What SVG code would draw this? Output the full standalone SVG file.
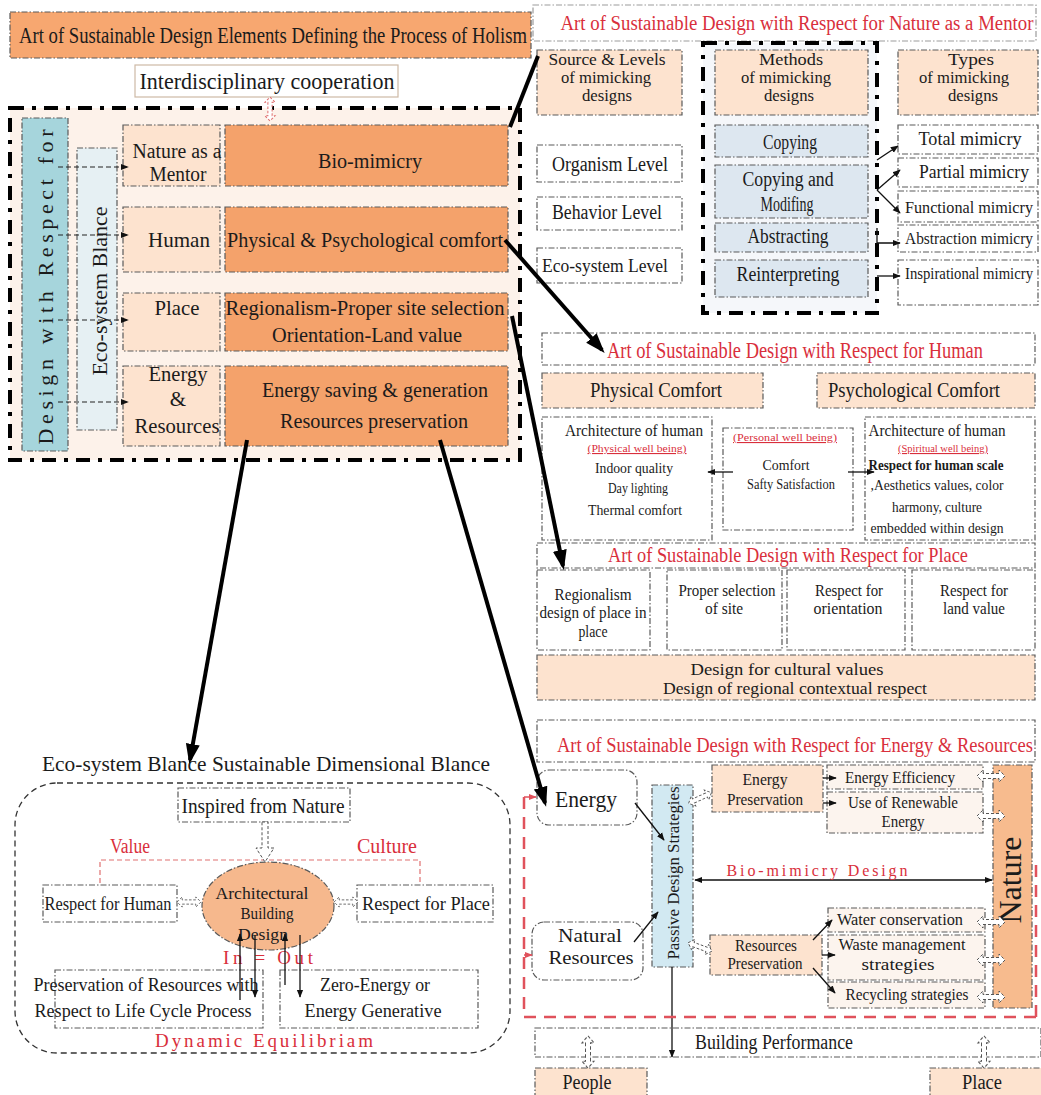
<svg xmlns="http://www.w3.org/2000/svg" width="1041" height="1095" viewBox="0 0 1041 1095">
<defs>
<style>
 text{font-family:"Liberation Serif","Times New Roman",serif;fill:#1b1b1b;text-anchor:middle}
 .red{fill:#d92f3c}
 .bx{stroke:#5a5a5a;stroke-width:1.2;stroke-dasharray:6 2 1.5 2}
 .pe{fill:#fde3cf}
 .or{fill:#f4a26b}
 .wh{fill:#fff}
 .lt{fill:#fcf4ee}
 .bl{fill:#dde7f0}
 .thick{stroke:#000;stroke-width:4;stroke-dasharray:14 8 4 8}
 .big{stroke:#000;stroke-width:4;fill:none;marker-end:url(#bigHead)}
 .thin{stroke:#111;stroke-width:1.3;fill:none;marker-end:url(#head)}
 .dsh{stroke:#222;stroke-width:1.2;stroke-dasharray:5 3;fill:none;marker-end:url(#head)}
 .reddash{stroke:#e0525c;stroke-width:2.5;stroke-dasharray:12 8;fill:none}
 .hol{fill:#fff;stroke:#555;stroke-width:1;stroke-dasharray:3 2}
</style>
<marker id="head" viewBox="0 0 10 10" refX="9" refY="5" markerWidth="8" markerHeight="8" markerUnits="userSpaceOnUse" orient="auto-start-reverse"><path d="M0,1 L10,5 L0,9 z" fill="#111"/></marker>
<marker id="rhead" viewBox="0 0 10 10" refX="9" refY="5" markerWidth="8" markerHeight="8" markerUnits="userSpaceOnUse" orient="auto"><path d="M0,1 L10,5 L0,9 z" fill="#e0525c"/></marker>
<marker id="bigHead" viewBox="0 0 10 10" refX="8" refY="5" markerWidth="20" markerHeight="20" markerUnits="userSpaceOnUse" orient="auto"><path d="M0,1.5 L10,5 L0,8.5 z" fill="#000"/></marker>
<path id="dbl" d="M-14,0 L-8,-6 L-8,-2.5 L8,-2.5 L8,-6 L14,0 L8,6 L8,2.5 L-8,2.5 L-8,6 Z"/>
<path id="down" d="M-3,0 L3,0 L3,26 L9,26 L0,40 L-9,26 L-3,26 Z"/>
</defs>

<rect width="1041" height="1095" fill="#fff"/>

<!-- ===== Holism overview (left) ===== -->
<g id="holism-title">
 <rect x="10" y="12" width="521" height="46" class="bx" fill="#f7a770"/>
 <text x="273" y="43" font-size="24" textLength="508" lengthAdjust="spacingAndGlyphs">Art of Sustainable Design Elements Defining the Process of Holism</text>
</g>
<g id="interdisciplinary">
 <rect x="135" y="65" width="263" height="32" fill="#fff" stroke="#cdb9a6" stroke-width="1.2"/>
 <text x="267" y="89" font-size="24" textLength="255" lengthAdjust="spacingAndGlyphs">Interdisciplinary cooperation</text>
</g>
<g id="holism-frame">
 <rect x="10" y="108" width="510" height="352" fill="#fdf2ea" class="thick"/>
</g>
<g id="design-respect">
 <rect x="22" y="118" width="46" height="333" fill="#a6d5dc" class="bx"/>
 <text transform="translate(53,287) rotate(-90)" font-size="22" fill="#333" textLength="315" lengthAdjust="spacing">Design with Respect for</text>
</g>
<g id="eco-balance">
 <rect x="77" y="148" width="40" height="282" fill="#e6f0f3" class="bx"/>
 <text transform="translate(107,291) rotate(-90)" font-size="22">Eco-system Blance</text>
</g>
<g id="row-nature">
 <rect x="123" y="125" width="97" height="61" class="bx pe"/>
 <rect x="225" y="125" width="283" height="61" class="bx or"/>
 <text x="177" y="158" font-size="20.5" textLength="89" lengthAdjust="spacingAndGlyphs">Nature as a</text>
 <text x="178" y="181" font-size="20.5" textLength="57" lengthAdjust="spacingAndGlyphs">Mentor</text>
 <text x="370" y="168" font-size="22" textLength="104" lengthAdjust="spacingAndGlyphs">Bio-mimicry</text>
</g>
<g id="row-human">
 <rect x="123" y="207" width="97" height="65" class="bx pe"/>
 <rect x="225" y="207" width="283" height="65" class="bx or"/>
 <text x="179" y="247" font-size="22" textLength="62" lengthAdjust="spacingAndGlyphs">Human</text>
 <text x="365" y="247" font-size="21" textLength="276" lengthAdjust="spacingAndGlyphs">Physical &amp; Psychological comfort</text>
</g>
<g id="row-place">
 <rect x="123" y="293" width="97" height="58" class="bx pe"/>
 <rect x="225" y="293" width="283" height="58" class="bx or"/>
 <text x="177" y="315" font-size="21" textLength="45" lengthAdjust="spacingAndGlyphs">Place</text>
 <text x="365" y="315" font-size="21" textLength="279" lengthAdjust="spacingAndGlyphs">Regionalism-Proper site selection</text>
 <text x="367" y="342" font-size="21" textLength="190" lengthAdjust="spacingAndGlyphs">Orientation-Land value</text>
</g>
<g id="row-energy">
 <rect x="123" y="366" width="97" height="80" class="bx pe"/>
 <rect x="225" y="366" width="283" height="80" class="bx or"/>
 <text x="178" y="381" font-size="21" textLength="59" lengthAdjust="spacingAndGlyphs">Energy</text>
 <text x="178" y="406" font-size="21">&amp;</text>
 <text x="177" y="433" font-size="21" textLength="85" lengthAdjust="spacingAndGlyphs">Resources</text>
 <text x="375" y="397" font-size="21" textLength="226" lengthAdjust="spacingAndGlyphs">Energy saving &amp; generation</text>
 <text x="374" y="428" font-size="21" textLength="188" lengthAdjust="spacingAndGlyphs">Resources preservation</text>
</g>

<!-- ===== Nature as a mentor (top right) ===== -->
<g id="mentor-title">
 <rect x="533" y="5" width="503" height="36" fill="none" class="bx" stroke-opacity="0.6"/>
 <text x="797" y="30" font-size="20" class="red" textLength="473" lengthAdjust="spacingAndGlyphs">Art of Sustainable Design with Respect for Nature as a Mentor</text>
</g>
<g id="source-levels">
 <rect x="537" y="50" width="145" height="65" class="bx pe"/>
 <text x="607" y="65" font-size="16" textLength="117" lengthAdjust="spacingAndGlyphs">Source &amp; Levels</text>
 <text x="606" y="83" font-size="16" textLength="90" lengthAdjust="spacingAndGlyphs">of mimicking</text>
 <text x="607" y="101" font-size="16" textLength="50" lengthAdjust="spacingAndGlyphs">designs</text>
</g>
<g id="organism-level">
 <rect x="537" y="145" width="145" height="37" class="bx wh"/>
 <text x="610" y="171" font-size="20" textLength="116" lengthAdjust="spacingAndGlyphs">Organism Level</text>
</g>
<g id="behavior-level">
 <rect x="537" y="197" width="145" height="33" class="bx wh"/>
 <text x="607" y="219" font-size="20" textLength="110" lengthAdjust="spacingAndGlyphs">Behavior Level</text>
</g>
<g id="ecosystem-level">
 <rect x="537" y="248" width="145" height="35" class="bx wh"/>
 <text x="605" y="272" font-size="19" textLength="126" lengthAdjust="spacingAndGlyphs">Eco-system Level</text>
</g>
<g id="methods">
 <rect x="703" y="43" width="174" height="270" fill="#f5f7fa" class="thick"/>
 <rect x="715" y="50" width="153" height="65" class="bx pe"/>
 <text x="791" y="65" font-size="16" textLength="64" lengthAdjust="spacingAndGlyphs">Methods</text>
 <text x="786" y="83" font-size="16" textLength="90" lengthAdjust="spacingAndGlyphs">of mimicking</text>
 <text x="789" y="101" font-size="16" textLength="50" lengthAdjust="spacingAndGlyphs">designs</text>
</g>
<g id="copying">
 <rect x="715" y="125" width="153" height="32" class="bx bl"/>
 <text x="790" y="149" font-size="20" textLength="54" lengthAdjust="spacingAndGlyphs">Copying</text>
</g>
<g id="copying-modifing">
 <rect x="715" y="165" width="153" height="53" class="bx bl"/>
 <text x="788" y="186" font-size="20" textLength="91" lengthAdjust="spacingAndGlyphs">Copying and</text>
 <text x="787" y="211" font-size="20" textLength="53" lengthAdjust="spacingAndGlyphs">Modifing</text>
</g>
<g id="abstracting">
 <rect x="715" y="223" width="153" height="29" class="bx bl"/>
 <text x="788" y="243" font-size="20" textLength="81" lengthAdjust="spacingAndGlyphs">Abstracting</text>
</g>
<g id="reinterpreting">
 <rect x="715" y="260" width="153" height="37" class="bx bl"/>
 <text x="788" y="281" font-size="20" textLength="103" lengthAdjust="spacingAndGlyphs">Reinterpreting</text>
</g>
<g id="types">
 <rect x="898" y="50" width="140" height="65" class="bx pe"/>
 <text x="971" y="65" font-size="16" textLength="46" lengthAdjust="spacingAndGlyphs">Types</text>
 <text x="964" y="83" font-size="16" textLength="90" lengthAdjust="spacingAndGlyphs">of mimicking</text>
 <text x="973" y="101" font-size="16" textLength="50" lengthAdjust="spacingAndGlyphs">designs</text>
</g>
<g id="total-mimicry">
 <rect x="898" y="125" width="140" height="29" class="bx wh"/>
 <text x="970" y="145" font-size="18" textLength="103" lengthAdjust="spacingAndGlyphs">Total mimicry</text>
</g>
<g id="partial-mimicry">
 <rect x="898" y="158" width="140" height="29" class="bx wh"/>
 <text x="974" y="178" font-size="18" textLength="110" lengthAdjust="spacingAndGlyphs">Partial mimicry</text>
</g>
<g id="functional-mimicry">
 <rect x="898" y="191" width="140" height="31" class="bx wh"/>
 <text x="969" y="213" font-size="17" textLength="128" lengthAdjust="spacingAndGlyphs">Functional mimicry</text>
</g>
<g id="abstraction-mimicry">
 <rect x="898" y="225" width="140" height="27" class="bx wh"/>
 <text x="969" y="244" font-size="17" textLength="128" lengthAdjust="spacingAndGlyphs">Abstraction mimicry</text>
</g>
<g id="inspirational-mimicry">
 <rect x="898" y="260" width="140" height="45" class="bx wh"/>
 <text x="969" y="279" font-size="17" textLength="128" lengthAdjust="spacingAndGlyphs">Inspirational mimicry</text>
</g>

<!-- ===== Respect for human ===== -->
<g id="human-title">
 <rect x="542" y="333" width="493" height="32" class="bx wh"/>
 <text x="795" y="358" font-size="23" class="red" textLength="376" lengthAdjust="spacingAndGlyphs">Art of Sustainable Design with Respect for Human</text>
</g>
<g id="physical-comfort">
 <rect x="542" y="373" width="221" height="35" class="bx pe"/>
 <text x="656" y="397" font-size="21" textLength="132" lengthAdjust="spacingAndGlyphs">Physical Comfort</text>
</g>
<g id="psychological-comfort">
 <rect x="817" y="373" width="218" height="35" class="bx pe"/>
 <text x="914" y="397" font-size="21" textLength="172" lengthAdjust="spacingAndGlyphs">Psychological Comfort</text>
</g>
<g id="physical-wellbeing">
 <rect x="542" y="417" width="170" height="123" class="bx wh"/>
 <text x="634" y="436" font-size="16" textLength="138" lengthAdjust="spacingAndGlyphs">Architecture of human</text>
 <text x="637" y="452" font-size="11" class="red" style="text-decoration:underline" textLength="99" lengthAdjust="spacingAndGlyphs">(Physical well being)</text>
 <text x="634" y="473" font-size="15" textLength="78" lengthAdjust="spacingAndGlyphs">Indoor quality</text>
 <text x="638" y="493" font-size="15" textLength="60" lengthAdjust="spacingAndGlyphs">Day lighting</text>
 <text x="635" y="515" font-size="15" textLength="94" lengthAdjust="spacingAndGlyphs">Thermal comfort</text>
</g>
<g id="personal-wellbeing">
 <rect x="723" y="428" width="130" height="102" class="bx wh"/>
 <text x="785" y="441" font-size="11" class="red" style="text-decoration:underline" textLength="104" lengthAdjust="spacingAndGlyphs">(Personal well being)</text>
 <text x="786" y="470" font-size="15" textLength="47" lengthAdjust="spacingAndGlyphs">Comfort</text>
 <text x="791" y="489" font-size="15" textLength="88" lengthAdjust="spacingAndGlyphs">Safty Satisfaction</text>
</g>
<g id="spiritual-wellbeing">
 <rect x="865" y="417" width="170" height="123" class="bx wh"/>
 <text x="937" y="436" font-size="16" textLength="137" lengthAdjust="spacingAndGlyphs">Architecture of human</text>
 <text x="943" y="452" font-size="11" class="red" style="text-decoration:underline" textLength="90" lengthAdjust="spacingAndGlyphs">(Spiritual well being)</text>
 <text x="936" y="470" font-size="15" font-weight="bold" textLength="135" lengthAdjust="spacingAndGlyphs">Respect for human scale</text>
 <text x="937" y="490" font-size="15" textLength="133" lengthAdjust="spacingAndGlyphs">,Aesthetics values, color</text>
 <text x="937" y="512" font-size="15" textLength="90" lengthAdjust="spacingAndGlyphs">harmony, culture</text>
 <text x="937" y="533" font-size="15" textLength="133" lengthAdjust="spacingAndGlyphs">embedded within design</text>
</g>

<!-- ===== Respect for place ===== -->
<g id="place-title">
 <rect x="537" y="543" width="498" height="25" class="bx wh"/>
 <text x="788" y="562" font-size="22" class="red" textLength="360" lengthAdjust="spacingAndGlyphs">Art of Sustainable Design with Respect for Place</text>
</g>
<g id="regionalism">
 <rect x="537" y="570" width="113" height="80" class="bx wh"/>
 <text x="593" y="600" font-size="16" textLength="77" lengthAdjust="spacingAndGlyphs">Regionalism</text>
 <text x="593" y="618" font-size="16" textLength="107" lengthAdjust="spacingAndGlyphs">design of place in</text>
 <text x="593" y="637" font-size="16" textLength="29" lengthAdjust="spacingAndGlyphs">place</text>
</g>
<g id="site-selection">
 <rect x="667" y="570" width="115" height="80" class="bx wh"/>
 <text x="727" y="596" font-size="16" textLength="97" lengthAdjust="spacingAndGlyphs">Proper selection</text>
 <text x="724" y="614" font-size="16" textLength="38" lengthAdjust="spacingAndGlyphs">of site</text>
</g>
<g id="orientation">
 <rect x="787" y="570" width="118" height="80" class="bx wh"/>
 <text x="849" y="596" font-size="16" textLength="68" lengthAdjust="spacingAndGlyphs">Respect for</text>
 <text x="848" y="614" font-size="16" textLength="69" lengthAdjust="spacingAndGlyphs">orientation</text>
</g>
<g id="land-value">
 <rect x="912" y="570" width="123" height="80" class="bx wh"/>
 <text x="974" y="596" font-size="16" textLength="68" lengthAdjust="spacingAndGlyphs">Respect for</text>
 <text x="974" y="614" font-size="16" textLength="62" lengthAdjust="spacingAndGlyphs">land value</text>
</g>
<g id="cultural-values">
 <rect x="537" y="655" width="498" height="45" class="bx pe"/>
 <text x="787" y="675" font-size="17" textLength="193" lengthAdjust="spacingAndGlyphs">Design for cultural values</text>
 <text x="795" y="694" font-size="17" textLength="264" lengthAdjust="spacingAndGlyphs">Design of regional contextual respect</text>
</g>

<!-- ===== Respect for energy & resources ===== -->
<g id="energy-title">
 <rect x="537" y="720" width="498" height="42" class="bx wh"/>
 <text x="795" y="752" font-size="20" class="red" textLength="476" lengthAdjust="spacingAndGlyphs">Art of Sustainable Design with Respect for Energy &amp; Resources</text>
</g>
<g id="energy">
 <rect x="537" y="770" width="100" height="55" rx="12" class="bx wh"/>
 <text x="586" y="807" font-size="24" textLength="62" lengthAdjust="spacingAndGlyphs">Energy</text>
</g>
<g id="natural-resources">
 <rect x="532" y="922" width="111" height="58" rx="12" class="bx wh"/>
 <text x="590" y="942" font-size="19.5" textLength="64" lengthAdjust="spacingAndGlyphs">Natural</text>
 <text x="591" y="964" font-size="19.5" textLength="85" lengthAdjust="spacingAndGlyphs">Resources</text>
</g>
<g id="passive-design">
 <rect x="652" y="785" width="41" height="182" fill="#d2e9f2" class="bx"/>
 <text transform="translate(679,873) rotate(-90)" font-size="17" textLength="173" lengthAdjust="spacingAndGlyphs">Passive Design Strategies</text>
</g>
<g id="energy-preservation">
 <rect x="712" y="765" width="111" height="47" class="bx pe"/>
 <text x="765" y="785" font-size="17" textLength="45" lengthAdjust="spacingAndGlyphs">Energy</text>
 <text x="765" y="805" font-size="17" textLength="76" lengthAdjust="spacingAndGlyphs">Preservation</text>
</g>
<g id="energy-efficiency">
 <rect x="827" y="765" width="156" height="24" class="bx lt"/>
 <text x="900" y="783" font-size="17" textLength="110" lengthAdjust="spacingAndGlyphs">Energy Efficiency</text>
</g>
<g id="renewable-energy">
 <rect x="827" y="792" width="156" height="41" class="bx lt"/>
 <text x="903" y="808" font-size="17" textLength="110" lengthAdjust="spacingAndGlyphs">Use of Renewable</text>
 <text x="903" y="827" font-size="17" textLength="43" lengthAdjust="spacingAndGlyphs">Energy</text>
</g>
<g id="resources-preservation">
 <rect x="710" y="935" width="112" height="40" class="bx pe"/>
 <text x="766" y="951" font-size="16" textLength="62" lengthAdjust="spacingAndGlyphs">Resources</text>
 <text x="765" y="969" font-size="16" textLength="75" lengthAdjust="spacingAndGlyphs">Preservation</text>
</g>
<g id="water-conservation">
 <rect x="828" y="908" width="157" height="24" class="bx lt"/>
 <text x="900" y="925" font-size="17" textLength="126" lengthAdjust="spacingAndGlyphs">Water conservation</text>
</g>
<g id="waste-management">
 <rect x="828" y="935" width="157" height="45" class="bx lt"/>
 <text x="902" y="950" font-size="17" textLength="127" lengthAdjust="spacingAndGlyphs">Waste management</text>
 <text x="898" y="970" font-size="17" textLength="73" lengthAdjust="spacingAndGlyphs">strategies</text>
</g>
<g id="recycling">
 <rect x="828" y="982" width="157" height="26" class="bx lt"/>
 <text x="907" y="1000" font-size="17" textLength="123" lengthAdjust="spacingAndGlyphs">Recycling strategies</text>
</g>
<g id="nature">
 <rect x="993" y="765" width="39" height="243" fill="#f7bb8e" class="bx"/>
 <text transform="translate(1021,880) rotate(-90)" font-size="32">Nature</text>
</g>
<g id="building-performance">
 <rect x="535" y="1028" width="506" height="29" class="bx wh"/>
 <text x="774" y="1049" font-size="20" textLength="158" lengthAdjust="spacingAndGlyphs">Building Performance</text>
</g>
<g id="people">
 <rect x="535" y="1068" width="112" height="30" class="bx pe"/>
 <text x="587" y="1089" font-size="20" textLength="49" lengthAdjust="spacingAndGlyphs">People</text>
</g>
<g id="place">
 <rect x="930" y="1068" width="114" height="30" class="bx pe"/>
 <text x="982" y="1089" font-size="20" textLength="40" lengthAdjust="spacingAndGlyphs">Place</text>
</g>

<!-- ===== Eco-system balance (bottom left) ===== -->
<g id="balance-frame">
 <text x="266" y="771" font-size="22" textLength="448" lengthAdjust="spacingAndGlyphs">Eco-system Blance Sustainable Dimensional Blance</text>
 <rect x="15" y="783" width="495" height="270" rx="42" fill="#fff" stroke="#333" stroke-width="1.3" stroke-dasharray="6 4"/>
</g>
<g id="inspired-nature">
 <rect x="178" y="788" width="172" height="34" class="bx wh"/>
 <text x="263" y="813" font-size="20" textLength="163" lengthAdjust="spacingAndGlyphs">Inspired from Nature</text>
</g>
<g id="value-culture">
 <path d="M100,883 V860 H420 V883" fill="none" stroke="#e07070" stroke-width="1.2" stroke-dasharray="5 3"/>
 <text x="130" y="853" font-size="20" class="red" textLength="40" lengthAdjust="spacingAndGlyphs">Value</text>
 <text x="387" y="853" font-size="20" class="red" textLength="60" lengthAdjust="spacingAndGlyphs">Culture</text>
</g>
<g id="respect-human">
 <rect x="43" y="885" width="134" height="37" class="bx wh"/>
 <text x="108" y="910" font-size="18" textLength="127" lengthAdjust="spacingAndGlyphs">Respect for Human</text>
</g>
<g id="respect-place">
 <rect x="357" y="885" width="136" height="37" class="bx wh"/>
 <text x="426" y="910" font-size="18" textLength="128" lengthAdjust="spacingAndGlyphs">Respect for Place</text>
</g>
<g id="architectural-design">
 <ellipse cx="268" cy="906" rx="66" ry="44" fill="#f6b88d" class="bx"/>
 <text x="262" y="899" font-size="17.5" textLength="93" lengthAdjust="spacingAndGlyphs">Architectural</text>
 <text x="267" y="919" font-size="17.5" textLength="53" lengthAdjust="spacingAndGlyphs">Building</text>
 <text x="263" y="940" font-size="17.5" textLength="50" lengthAdjust="spacingAndGlyphs">Design</text>
</g>
<g id="in-out">
 <text x="268" y="964" font-size="19" class="red" textLength="90" lengthAdjust="spacing">In = Out</text>
</g>
<g id="life-cycle">
 <rect x="55" y="970" width="208" height="58" class="bx wh"/>
 <text x="146" y="991" font-size="19" textLength="225" lengthAdjust="spacingAndGlyphs">Preservation of Resources with</text>
 <text x="143" y="1017" font-size="19" textLength="217" lengthAdjust="spacingAndGlyphs">Respect to Life Cycle Process</text>
</g>
<g id="zero-energy">
 <rect x="280" y="970" width="198" height="58" class="bx wh"/>
 <text x="375" y="991" font-size="19" textLength="110" lengthAdjust="spacingAndGlyphs">Zero-Energy or</text>
 <text x="373" y="1017" font-size="19" textLength="137" lengthAdjust="spacingAndGlyphs">Energy Generative</text>
</g>
<g id="equilibrium">
 <text x="264" y="1047" font-size="19" class="red" textLength="218" lengthAdjust="spacing">Dynamic Equilibriam</text>
</g>

<!-- ===== Connectors ===== -->
<g id="connectors">
 <!-- left panel: respect lines into the four rows -->
 <line x1="58" y1="167" x2="128" y2="167" class="dsh"/>
 <line x1="58" y1="235" x2="128" y2="235" class="dsh"/>
 <line x1="58" y1="320" x2="128" y2="320" class="dsh"/>
 <line x1="58" y1="402" x2="128" y2="402" class="dsh"/>

 <!-- holism rows to the detail panels -->
 <line x1="510" y1="127" x2="538" y2="56" stroke="#000" stroke-width="4"/>
 <line x1="505" y1="240" x2="602" y2="350" class="big"/>
 <line x1="512" y1="316" x2="563" y2="566" class="big"/>
 <line x1="440" y1="440" x2="545" y2="803" class="big"/>
 <line x1="247" y1="440" x2="190" y2="760" class="big"/>

 <!-- methods to types -->
 <line x1="877" y1="160" x2="898" y2="146" class="thin"/>
 <line x1="877" y1="190" x2="900" y2="170" class="thin"/>
 <line x1="877" y1="190" x2="900" y2="213" class="thin"/>
 <path d="M877,228 V243 H900" class="thin"/>
 <line x1="877" y1="276" x2="900" y2="276" class="thin"/>

 <!-- human wellbeing -->
 <line x1="733" y1="472" x2="708" y2="472" class="thin"/>
 <line x1="848" y1="472" x2="874" y2="472" class="thin"/>

 <!-- energy & resources -->
 <line x1="635" y1="803" x2="664" y2="840" class="thin"/>
 <line x1="634" y1="942" x2="658" y2="912" class="thin"/>
 <line x1="823" y1="778" x2="836" y2="778" class="thin"/>
 <line x1="823" y1="803" x2="836" y2="803" class="thin"/>
 <line x1="695" y1="880" x2="992" y2="880" class="thin" marker-start="url(#head)"/>
 <text x="817" y="876" font-size="16" class="red" textLength="181" lengthAdjust="spacing">Bio-mimicry Design</text>
 <line x1="813" y1="940" x2="832" y2="920" class="thin"/>
 <line x1="822" y1="955" x2="835" y2="955" class="thin"/>
 <line x1="813" y1="968" x2="835" y2="993" class="thin"/>
 <line x1="672" y1="967" x2="672" y2="1057" class="thin"/>

 <!-- red boundary of the energy loop -->
 <path d="M524,797 V1017 H1041" class="reddash"/>
 <path d="M1036,1017 V865 H1041" class="reddash"/>
 <line x1="524" y1="797" x2="536" y2="797" stroke="#e0525c" stroke-width="1.5" marker-end="url(#rhead)"/>
 <line x1="524" y1="955" x2="532" y2="955" stroke="#e0525c" stroke-width="1.5" marker-end="url(#rhead)"/>

 <!-- in / out flows -->
 <line x1="240" y1="1000" x2="240" y2="934" class="thin"/>
 <line x1="255" y1="935" x2="255" y2="997" class="thin"/>
 <line x1="285" y1="985" x2="285" y2="934" class="thin"/>
 <line x1="300" y1="935" x2="300" y2="997" class="thin"/>

 <!-- hollow exchange arrows -->
 <use href="#dbl" transform="translate(270,109) rotate(90) scale(0.85)" fill="#fff" stroke="#e07070" stroke-width="1.2" stroke-dasharray="3 2"/>
 <use href="#dbl" class="hol" transform="translate(700,798) rotate(-25) scale(0.9)"/>
 <use href="#dbl" class="hol" transform="translate(700,947) rotate(20) scale(0.9)"/>
 <use href="#dbl" class="hol" transform="translate(991,776)"/>
 <use href="#dbl" class="hol" transform="translate(991,816)"/>
 <use href="#dbl" class="hol" transform="translate(991,922)"/>
 <use href="#dbl" class="hol" transform="translate(991,960)"/>
 <use href="#dbl" class="hol" transform="translate(991,997)"/>
 <use href="#dbl" class="hol" transform="translate(588,1052) rotate(90) scale(1.15,1)"/>
 <use href="#dbl" class="hol" transform="translate(984,1052) rotate(90) scale(1.15,1)"/>
 <use href="#dbl" class="hol" transform="translate(189,902) scale(0.85)"/>
 <use href="#dbl" class="hol" transform="translate(346,902) scale(0.85)"/>
 <use href="#down" class="hol" transform="translate(265,822)"/>
</g>
</svg>
